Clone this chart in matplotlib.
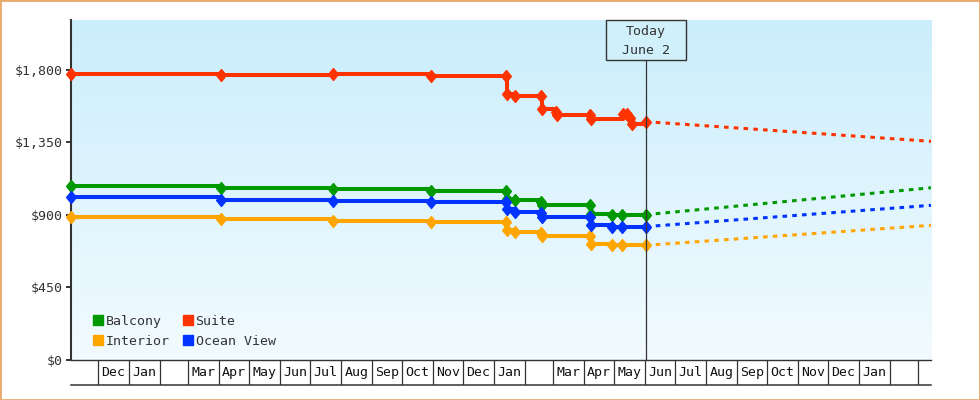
#Import Libraries
import numpy as np
import pandas as pd
import matplotlib
matplotlib.use("Agg")
import matplotlib.pyplot as plt
import matplotlib.dates as mdates
import matplotlib.transforms as mtransforms
from matplotlib.lines import Line2D
from matplotlib.patches import Rectangle
from matplotlib.colors import LinearSegmentedColormap
from matplotlib.ticker import FuncFormatter

plt.rcParams['font.family'] = ['DejaVu Sans Mono', 'DejaVu Sans']

#Price history (solid lines)
balcony_dates = ["2020-11-04", "2021-04-03", "2021-07-24", "2021-10-30", "2022-01-13", "2022-01-14",
                 "2022-01-22", "2022-02-17", "2022-02-18", "2022-04-07", "2022-04-08", "2022-04-29",
                 "2022-05-09", "2022-06-02"]
balcony_prices = [1080, 1066, 1062, 1050, 1050, 999, 993, 983, 960, 960, 904, 902, 902, 902]

interior_dates = balcony_dates
interior_prices = [886, 873, 865, 855, 855, 807, 796, 790, 772, 772, 718, 711, 712, 712]

ocean_dates = balcony_dates
ocean_prices = [1010, 993, 985, 979, 979, 937, 921, 911, 886, 886, 838, 828, 828, 828]

suite_dates = ["2020-11-04", "2021-04-03", "2021-07-24", "2021-10-30", "2022-01-13", "2022-01-14",
               "2022-01-22", "2022-02-17", "2022-02-18", "2022-03-04", "2022-03-05", "2022-04-07",
               "2022-04-08", "2022-05-10", "2022-05-14", "2022-05-17", "2022-05-19",
               "2022-06-02"]
suite_prices = [1775, 1766, 1775, 1762, 1762, 1648, 1640, 1640, 1556, 1542, 1521, 1521,
                1496, 1527, 1527, 1502, 1466, 1479]

#Forecast (dashed lines)
forecast_dates = ["2022-06-02", "2023-03-14"]
balcony_forecast = [902, 1069]
interior_forecast = [712, 836]
ocean_forecast = [828, 960]
suite_forecast = [1479, 1357]

#Axis labels
y_ticks = [0, 450, 900, 1350, 1800]
month_labels = ["Dec", "Jan", "", "Mar", "Apr", "May", "Jun", "Jul", "Aug", "Sep", "Oct", "Nov",
                "Dec", "Jan", "", "Mar", "Apr", "May", "Jun", "Jul", "Aug", "Sep", "Oct", "Nov",
                "Dec", "Jan", ""]
today = pd.Timestamp("2022-06-02")
today_label = "Today\nJune 2"

names = ["Balcony", "Interior", "Suite", "Ocean View"]
colors = ["#009900", "#ffa500", "#ff3300", "#0033ff"]

x_start = pd.Timestamp("2020-11-04")
x_end = pd.Timestamp("2023-03-14")

#Figure
fig = plt.figure(figsize=(9.8, 4), dpi=100)
rect = [71 / 980, 40 / 400, 860 / 980, 340 / 400]

#Gradient background
bg = fig.add_axes(rect, zorder=0)
grad = np.linspace(0, 1, 256).reshape(-1, 1)
cmap = LinearSegmentedColormap.from_list("bg", ["#cbeefc", "#f2fbff"])
bg.imshow(grad, cmap=cmap, aspect="auto", extent=[0, 1, 0, 1])
bg.axis("off")

ax = fig.add_axes(rect, zorder=1)
ax.set_facecolor("none")

diamond = [(0, 1), (0.82, 0), (0, -1), (-0.82, 0), (0, 1)]

series = [
    (balcony_dates, balcony_prices, balcony_forecast, colors[0]),
    (interior_dates, interior_prices, interior_forecast, colors[1]),
    (ocean_dates, ocean_prices, ocean_forecast, colors[3]),
    (suite_dates, suite_prices, suite_forecast, colors[2]),
]
for dates, prices, fc, col in series:
    ax.plot(pd.to_datetime(forecast_dates), fc, color=col, lw=2.2,
            ls=(0, (1.5, 1.7)), zorder=2)
    ax.plot(pd.to_datetime(dates), prices, color=col, lw=2.9, drawstyle="steps-post",
            zorder=3)
    ax.plot(pd.to_datetime(dates), prices, color=col, ls="none", marker=diamond,
            ms=8.6, clip_on=False, zorder=3)

ax.set_xlim(x_start, x_end)
ax.set_ylim(0, 2110)
ax.set_xticks([])
ax.set_yticks(y_ticks)
ax.yaxis.set_major_formatter(FuncFormatter(lambda v, p: "${:,.0f}".format(v)))
ax.tick_params(axis="y", length=3.6, width=1.4, color="#333333", labelcolor="#333333",
               labelsize=9.5, pad=2)
for s in ["top", "right"]:
    ax.spines[s].set_visible(False)
ax.spines["left"].set_linewidth(1.5)
ax.spines["left"].set_color("#333333")
ax.spines["bottom"].set_linewidth(1.0)
ax.spines["bottom"].set_color("#333333")

#Today marker
trans = mtransforms.blended_transform_factory(ax.transData, ax.transAxes)
box_bottom = 300 / 340
ax.plot([today, today], [0, box_bottom], transform=trans, color="#333333", lw=0.9, zorder=4)
t = mdates.date2num(today)
ax.add_patch(Rectangle((t - 40, box_bottom), 80, 1 - box_bottom, transform=trans,
                       facecolor="#d0f0fc", edgecolor="#333333", lw=1.0, zorder=4, clip_on=False))
ax.text(today, (1 + box_bottom) / 2 - 0.004, today_label, transform=trans, ha="center",
        va="center", fontsize=9.5, color="#333333", linespacing=1.6, zorder=5)

#Legend
handles = [Line2D([], [], ls="none", marker="s", ms=7.6, color=c) for c in colors]
leg = ax.legend(handles, names, ncol=2, loc="lower left", bbox_to_anchor=(0.026, 0.035),
                frameon=False, handlelength=0.75, handletextpad=0.2, columnspacing=1.0,
                labelspacing=0.55, fontsize=9.5, borderaxespad=0, borderpad=0)
for txt in leg.get_texts():
    txt.set_color("#333333")

#Month boxes under the chart
axb = fig.add_axes([71 / 980, 15 / 400, 860 / 980, 25 / 400], zorder=1)
axb.set_facecolor("none")
axb.set_xlim(x_start, x_end)
axb.set_ylim(0, 1)
axb.set_xticks([])
axb.set_yticks([])
for s in ["top", "right", "left"]:
    axb.spines[s].set_visible(False)
axb.spines["bottom"].set_linewidth(1.1)
axb.spines["bottom"].set_color("#333333")
month_starts = pd.date_range("2020-12-01", "2023-03-01", freq="MS")
axb.vlines(month_starts, 0, 1, color="#333333", lw=0.9)
for i, lab in enumerate(month_labels):
    mid = month_starts[i] + (month_starts[i + 1] - month_starts[i]) / 2
    axb.text(mid, 0.5, lab, ha="center", va="center", fontsize=9.5, color="#111111")

#Border
fig.patches.append(Rectangle((0, 0), 1, 1, transform=fig.transFigure, fill=False,
                             edgecolor="#e8aa6e", lw=2))

fig.savefig("out.png", dpi=100)
